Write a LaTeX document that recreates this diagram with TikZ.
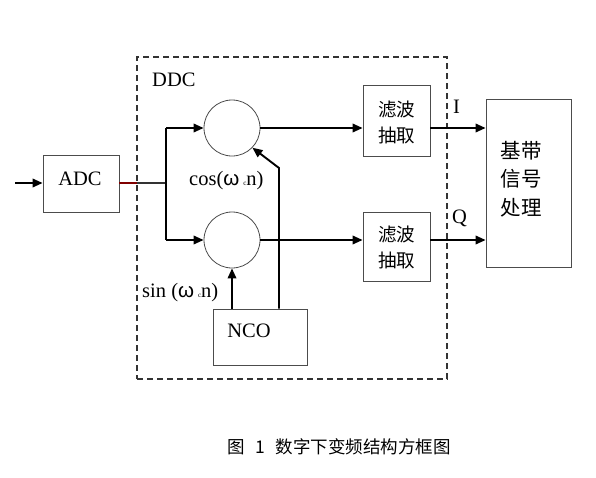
\documentclass[tikz,border=0pt]{standalone}
\usepackage{fontspec}
\setmainfont{Liberation Serif}
\newfontfamily\cjk{Noto Sans CJK SC}
\newfontfamily\omfont{Liberation Sans}
\usetikzlibrary{arrows.meta,calc}
\tikzset{
  box/.style={draw=black!70, line width=0.8pt, rectangle, inner sep=0pt},
  mix/.style={draw=black!70, line width=0.8pt, circle, minimum size=56pt, inner sep=0pt},
  wire/.style={line width=1.9pt, black},
  arr/.style={wire, -{Triangle[length=10pt,width=8.5pt]}},
  lat/.style={font=\fontsize{20.5}{23}\selectfont, inner sep=0pt},
  han/.style={font=\cjk\fontsize{18.5}{26}\selectfont, align=center, inner sep=0pt},
  hanbig/.style={font=\cjk\fontsize{20.5}{28.5}\selectfont, align=center, inner sep=0pt},
}
\newcommand{\omg}{{\omfont ω}}
\newcommand{\sbc}{{\fontsize{7}{7}\selectfont c}}
\begin{document}
\begin{tikzpicture}[x=1pt,y=-1pt]
\useasboundingbox[fill=white] (0,0) rectangle (596,477);
% boxes
\node[draw=black!80, line width=1.4pt, dash pattern=on 6pt off 4pt, rectangle, minimum width=310pt, minimum height=322pt, inner sep=0pt] (ddc) at (292,218) {};
\node[box, minimum width=76pt, minimum height=57pt] (adc) at (81,183.5) {};
\node[mix] (m1) at (232,128) {};
\node[mix] (m2) at (232,240) {};
\node[box, minimum width=67pt, minimum height=71pt] (f1) at (396.5,120.5) {};
\node[box, minimum width=67pt, minimum height=69pt] (f2) at (396.5,246.5) {};
\node[box, minimum width=85pt, minimum height=168pt] (bb) at (528.5,183) {};
\node[box, minimum width=94pt, minimum height=56pt] (nco) at (260,337) {};
% texts
\node[lat] (tadc) at (80,178.5) {ADC};
\node[lat] (tnco) at (249,331) {NCO};
\node[han] (tf1) at (396.5,122) {滤波\\抽取};
\node[han] (tf2) at (396.5,247) {滤波\\抽取};
\node[hanbig] (tbb) at (521,179) {基带\\信号\\处理};
\node[lat, anchor=base west] (tddc) at (152,86) {DDC};
\node[lat, anchor=base west] (tcos) at (189,185) {cos(\omg\hspace{4pt}\sbc n)};
\node[lat, anchor=base west] (tsin) at (142,297) {sin (\omg\hspace{4pt}\sbc n)};
\node[lat, anchor=base west] (ti) at (453,113) {I};
\node[lat, anchor=base west] (tq) at (452,223) {Q};
\node[font=\cjk\fontsize{17.5}{20}\selectfont, inner sep=0pt] (cap) at (339,447) {图\hspace{0.6em}1\hspace{0.6em}数字下变频结构方框图};
% connectors
\coordinate (in) at (15,183);
\coordinate (sp) at (166,183);
\coordinate (cut) at (137,183);
\coordinate (nk) at (279,168);
\draw[arr] (in) -- (in -| adc.west);
\draw[line width=1.2pt, red!50!black] (in -| adc.east) -- (cut);
\draw[line width=1.2pt, black!80] (cut) -- (sp);
\draw[wire] (sp |- m1.west) -- (sp |- m2.west);
\draw[arr] (sp |- m1.west) -- (m1.west);
\draw[arr] (sp |- m2.west) -- (m2.west);
\draw[arr] (m1.east) -- (m1.east -| f1.west);
\draw[arr] (m2.east) -- (m2.east -| f2.west);
\draw[arr] (m1.east -| f1.east) -- (m1.east -| bb.west);
\draw[arr] (m2.east -| f2.east) -- (m2.east -| bb.west);
\draw[arr] (m2 |- nco.north) -- (m2.south);
\draw[arr] (nk |- nco.north) -- (nk) -- (m1.-44);
\end{tikzpicture}
\end{document}
